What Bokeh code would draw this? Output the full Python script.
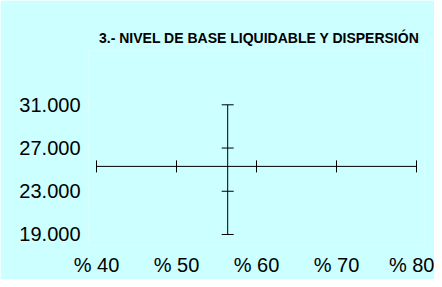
from math import pi
from bokeh.plotting import figure
from bokeh.models import Range1d, FixedTicker
from bokeh.embed import file_html
from bokeh.resources import INLINE

# Data
title_text = "3.- NIVEL DE BASE LIQUIDABLE Y DISPERSIÓN"
x_ticks = [40, 50, 60, 70, 80]
x_tick_labels = ["% 40", "% 50", "% 60", "% 70", "% 80"]
y_ticks = [19000, 23000, 27000, 31000]
y_tick_labels = ["19.000", "23.000", "27.000", "31.000"]
x_center = [56.4]      # mean percentage (vertical axis crossing)
y_center = [25300]     # mean base (horizontal axis crossing)

BG = "#CCFFFF"
FONT = "Liberation Sans"

p = figure(width=434, height=279, output_backend="svg", toolbar_location=None,
           x_range=Range1d(39, 81), y_range=Range1d(17982, 36024),
           min_border_left=88, min_border_right=10, min_border_top=50, min_border_bottom=34,
           title=title_text)
p.background_fill_color = BG
p.border_fill_color = BG
p.outline_line_color = None
p.grid.visible = False

p.title.align = "right"
p.title.offset = 5
p.title.text_font = FONT
p.title.text_font_size = "14px"
p.title.text_font_style = "bold"
p.title.text_color = "#000000"

for ax in (p.xaxis[0], p.yaxis[0]):
    ax.axis_line_color = None
    ax.major_tick_line_color = None
    ax.minor_tick_line_color = None
    ax.major_tick_in = 0
    ax.major_tick_out = 0
    ax.minor_tick_in = 0
    ax.minor_tick_out = 0
    ax.major_label_text_font = FONT
    ax.major_label_text_font_size = "20px"
    ax.major_label_text_color = "#000000"
    ax.major_label_standoff = 8

p.xaxis[0].ticker = FixedTicker(ticks=x_ticks)
p.xaxis[0].major_label_overrides = {t: l for t, l in zip(x_ticks, x_tick_labels)}
p.yaxis[0].ticker = FixedTicker(ticks=y_ticks)
p.yaxis[0].major_label_overrides = {t: l for t, l in zip(y_ticks, y_tick_labels)}

# Cross lines (axes crossing at the mean point)
p.segment(x0=[min(x_ticks)], y0=y_center, x1=[max(x_ticks)], y1=y_center,
          line_color="#000000", line_width=1)
p.segment(x0=x_center, y0=[min(y_ticks)], x1=x_center, y1=[max(y_ticks)],
          line_color="#000000", line_width=1)
# Tick marks on the crossing lines
p.scatter(x=x_ticks, y=y_center * len(x_ticks), marker="dash", size=12, angle=pi / 2,
          line_color="#000000", line_width=1)
p.scatter(x=x_center * len(y_ticks), y=y_ticks, marker="dash", size=12,
          line_color="#000000", line_width=1)

open("out.html", "w").write(file_html(p, INLINE))
